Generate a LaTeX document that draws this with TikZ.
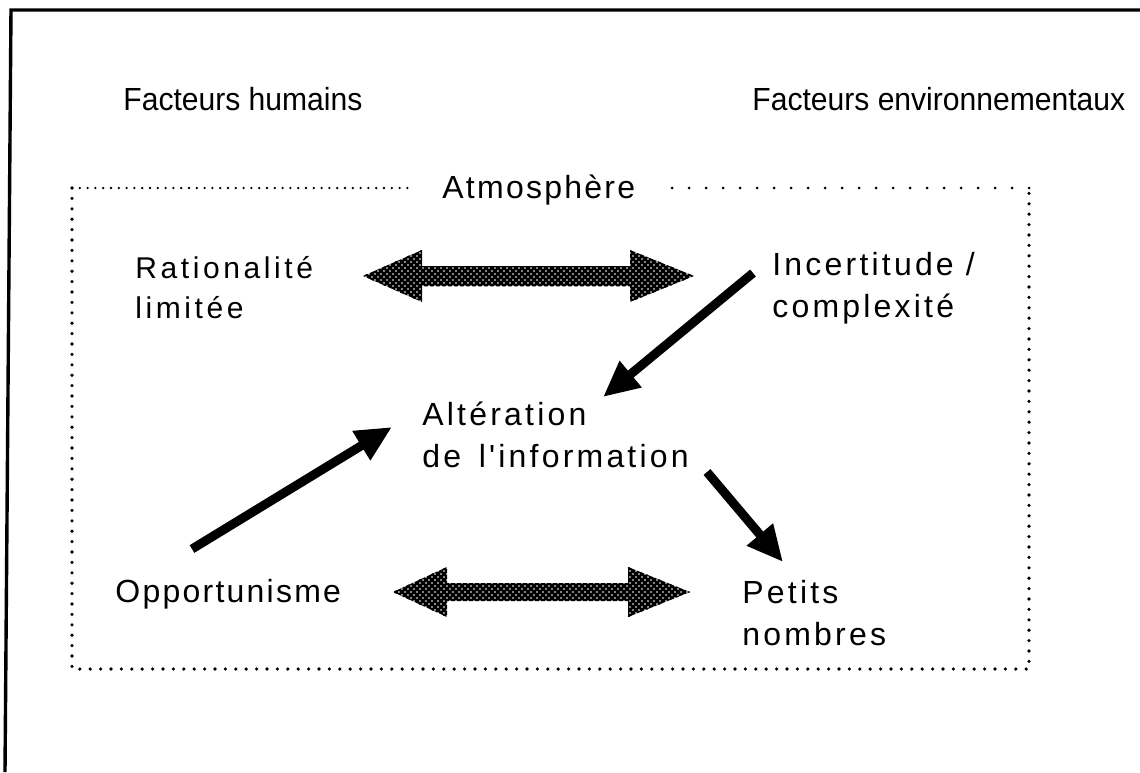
\documentclass[tikz,border=0pt]{standalone}
\usepackage{fontspec}
\setmainfont{Liberation Sans}
\newfontfamily\hdr[FakeStretch=0.94]{Liberation Sans}
\newfontfamily\spc[LetterSpace=10]{Liberation Sans}
\newfontfamily\spcw[LetterSpace=12]{Liberation Sans}
\newfontfamily\spcn[LetterSpace=7]{Liberation Sans}
\usetikzlibrary{arrows.meta,patterns}
\pgfdeclarepatternformonly{mesh}{\pgfqpoint{-1pt}{-1pt}}{\pgfqpoint{4pt}{4pt}}{\pgfqpoint{3pt}{3pt}}{%
  \pgfsetlinewidth{1.35pt}%
  \pgfpathmoveto{\pgfqpoint{-0.2pt}{-0.2pt}}\pgfpathlineto{\pgfqpoint{3.2pt}{3.2pt}}%
  \pgfpathmoveto{\pgfqpoint{-0.2pt}{3.2pt}}\pgfpathlineto{\pgfqpoint{3.2pt}{-0.2pt}}%
  \pgfusepath{stroke}}
\begin{document}
\begin{tikzpicture}[x=0.5pt,y=-0.5pt,
  lbl/.style={anchor=base west,inner sep=0pt,align=left,font=\fontsize{16pt}{21pt}\selectfont\hdr},
  slbl/.style={lbl,font=\fontsize{16pt}{21pt}\selectfont\spc},
  wlbl/.style={lbl,font=\fontsize{15pt}{20pt}\selectfont\spcw},
  nlbl/.style={lbl,font=\fontsize{16pt}{21pt}\selectfont\spcn},
  frame/.style={line width=1.7pt},
  dots/.style={line width=1.8pt,line cap=round,dash pattern=on 0pt off 5.2pt},
  sdots/.style={line width=1.3pt,line cap=round,dash pattern=on 0pt off 3.9pt},
  wdots/.style={line width=1.5pt,line cap=round,dash pattern=on 0pt off 8.5pt},
  mesharrow/.style={pattern=mesh},
  blackarrow/.style={line width=4.5pt,-{Triangle[length=18pt,width=16pt]}}]
\useasboundingbox (0,0) rectangle (1140,772);
% outer frame (left and top sides)
\draw[frame] (5,772) -- (11,10) -- (1140,10);
% headings
\node[lbl] (hum) at (123,110) {Facteurs humains};
\node[lbl] (env) at (752,110) {Facteurs environnementaux};
% atmosphere box
\coordinate (tl) at (72,188);
\coordinate (tr) at (1029,188);
\coordinate (br) at (1029,669);
\coordinate (bl) at (72,669);
\draw[dots] (tl) -- (bl) -- (br) -- (tr);
\draw[sdots] (tl) -- (413,188);
\draw[wdots] (tr) -- (663,188);
\node[nlbl] (atm) at (442,198) {Atmosphère};
% concepts
\node[wlbl] (rat) at (135,318) {Rationalité\\limitée};
\node[slbl] (inc) at (772,317) {Incertitude /\\complexité};
\node[slbl] (alt) at (422,467) {Altération\\de\hspace{0.55em}l'information};
\node[nlbl] (opp) at (115,602) {Opportunisme};
\node[slbl] (pet) at (742,645) {Petits\\nombres};
% mesh double arrows
\coordinate (ra) at (363,276);
\coordinate (rb) at (694,276);
\fill[mesharrow] (ra) -- ++(59,-26) -- ++(0,16) -- ++(208,0) -- ++(0,-16) -- (rb)
  -- ++(-64,26) -- ++(0,-16) -- ++(-208,0) -- ++(0,16) -- cycle;
\coordinate (oa) at (393,592);
\coordinate (ob) at (690,592);
\fill[mesharrow] (oa) -- ++(54,-25) -- ++(0,16) -- ++(181,0) -- ++(0,-16) -- (ob)
  -- ++(-62,25) -- ++(0,-16) -- ++(-181,0) -- ++(0,16) -- cycle;
% black arrows
\coordinate (a1s) at (753,273);
\coordinate (a1e) at (603,397);
\coordinate (a2s) at (192,549);
\coordinate (a2e) at (392,427);
\coordinate (a3s) at (707,472);
\coordinate (a3e) at (783,562);
\draw[blackarrow] (a1s) -- (a1e);
\draw[blackarrow] (a2s) -- (a2e);
\draw[blackarrow] (a3s) -- (a3e);
\end{tikzpicture}
\end{document}
